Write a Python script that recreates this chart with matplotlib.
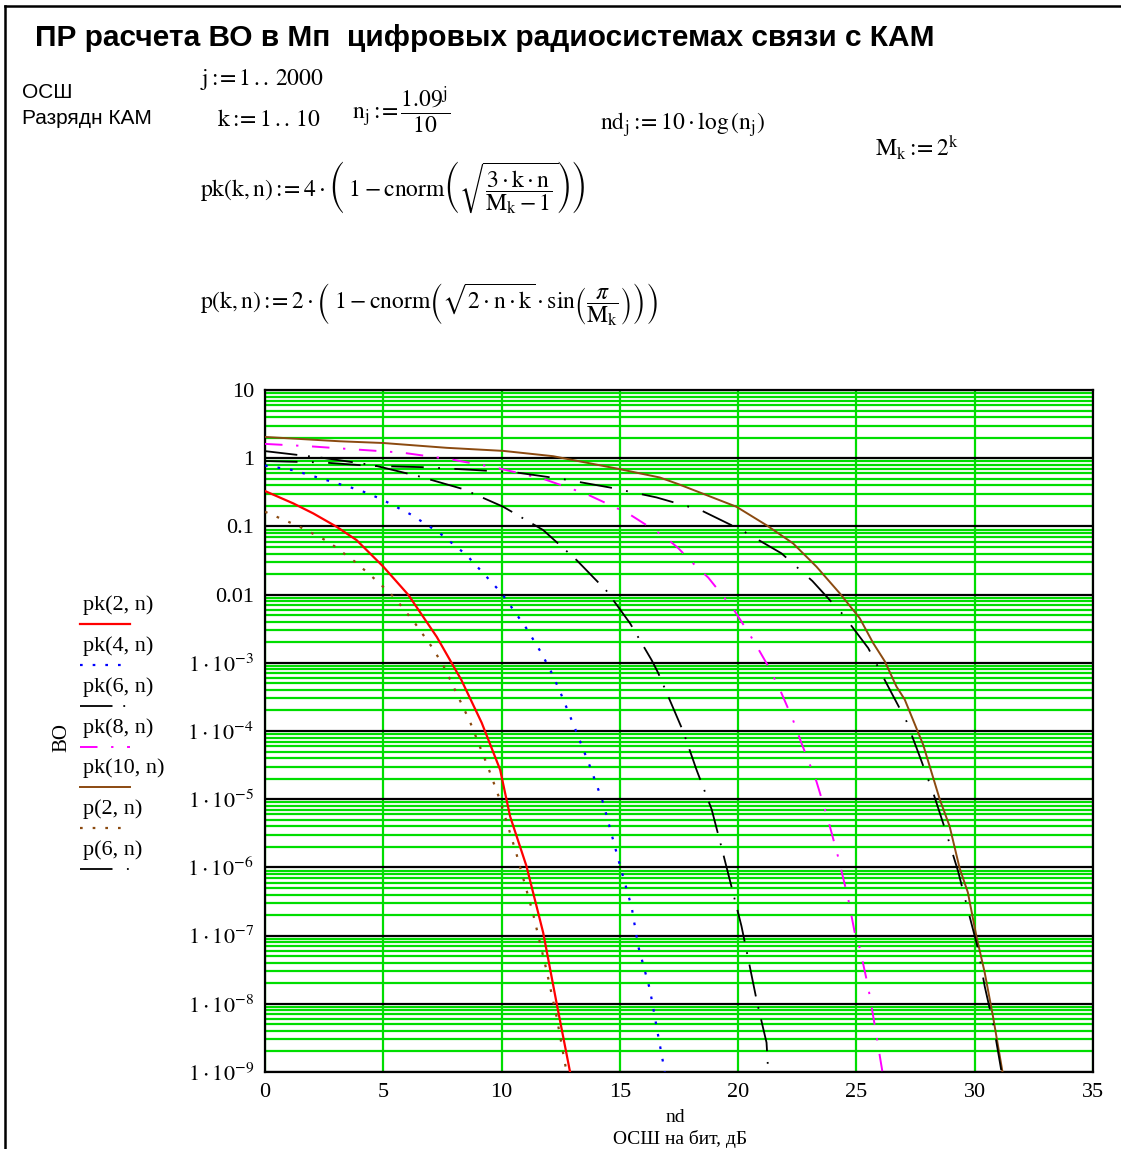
import matplotlib
matplotlib.use("Agg")
import matplotlib.pyplot as plt
from matplotlib.lines import Line2D
from matplotlib.ticker import LogLocator, NullFormatter, FixedLocator

W, H = 1121, 1149

# values (nd in dB, error probability BO)
pk2_x = [0, 1.2, 2.04, 3.03, 3.87, 5.0, 6.06, 7.26, 8.3, 9.16, 9.94, 10.36, 11.05, 11.76, 12.32, 12.89]
pk2_y = [0.33, 0.217, 0.155, 0.0986, 0.063, 0.0257, 9.9e-3, 2.4e-3, 5.6e-4, 1.32e-4, 2.7e-5, 5.6e-6,
         1.05e-6, 1.1e-7, 1.05e-8, 1.02e-9]

pk4_x = [0, 1.2, 2.58, 4.01, 4.92, 6.19, 7.39, 8.52, 9.42, 10.0, 11.05, 11.69, 12.11, 12.47, 13.1,
         13.74, 14.3, 14.94, 15.5, 15.78, 16.27, 16.62, 16.9]
pk4_y = [0.78, 0.667, 0.479, 0.339, 0.251, 0.148, 0.0794, 0.038, 0.0174, 0.0105, 3.2e-3, 1.38e-3,
         7.2e-4, 3.8e-4, 1.1e-4, 3.0e-5, 8.7e-6, 1.29e-6, 2.6e-7, 6.9e-8, 1.62e-8, 3.4e-9, 1.0e-9]

pk6_x = [0, 2.46, 4.58, 6.48, 8.38, 10.07, 11.76, 13.17, 14.44, 15.43, 16.34, 16.62, 17.68, 18.24,
         18.88, 19.3, 19.72, 20.14, 20.46, 20.8, 21.2, 21.27]
pk6_y = [1.27, 1.01, 0.79, 0.545, 0.352, 0.194, 0.0883, 0.0321, 0.0113, 3.8e-3, 1.1e-3, 7.1e-4,
         9.8e-5, 2.7e-5, 7.1e-6, 1.95e-6, 5.2e-7, 1.38e-7, 4.0e-8, 1.05e-8, 2.7e-9, 1.02e-9]

pk8_x = [0, 1.83, 3.87, 5.77, 7.82, 9.72, 11.76, 13.6, 15.35, 16.9, 17.47, 18.17, 18.74, 19.44,
         19.83, 20.46, 20.77, 21.34, 21.83, 22.3, 22.68, 23.31, 23.8, 24.22, 24.65, 24.93, 25.14,
         25.5, 25.78, 26.1]
pk8_y = [1.62, 1.5, 1.34, 1.21, 0.966, 0.731, 0.498, 0.297, 0.155, 0.0705, 0.0479, 0.0271, 0.0177,
         8.8e-3, 5.9e-3, 2.7e-3, 1.79e-3, 8.1e-4, 3.6e-4, 1.51e-4, 6.6e-5, 1.82e-5, 5.0e-6, 1.45e-6,
         3.5e-7, 1.1e-7, 6.6e-8, 1.74e-8, 4.7e-9, 1.0e-9]

pk10_x = [0, 3.17, 5.0, 7.68, 10.07, 12.18, 14.86, 16.69, 17.47, 19.93, 21.2, 22.32, 23.31, 24.3,
          25.14, 25.71, 26.2, 26.69, 27.04, 27.82, 28.52, 28.94, 29.36, 29.71, 30.07, 30.42, 30.77, 31.17]
pk10_y = [2.05, 1.77, 1.67, 1.42, 1.28, 1.07, 0.706, 0.521, 0.417, 0.194, 0.104, 0.0564, 0.0257,
          0.0104, 4.5e-3, 1.94e-3, 1.05e-3, 4.5e-4, 2.9e-4, 6.3e-5, 1.0e-5, 4.0e-6, 9.8e-7, 4.3e-7,
          9.8e-8, 2.9e-8, 6.6e-9, 1.02e-9]

p2_x = [0, 1.41, 2.68, 3.81, 4.8, 5.49, 6.34, 7.1, 7.6, 8.66, 9.42, 9.92, 10.62, 11.33, 11.89,
        12.32, 12.7, 12.78]
p2_y = [0.164, 0.101, 0.0596, 0.0302, 0.0151, 8.9e-3, 3.8e-3, 1.62e-3, 8.3e-4, 1.38e-4, 3.0e-5,
        1.0e-5, 1.62e-6, 2.1e-7, 3.2e-8, 6.6e-9, 1.23e-9, 1.0e-9]

p6_x = [0, 2.46, 4.51, 6.62, 8.59, 10.63, 12.6, 14.58, 16.55, 18.42, 20.14, 21.83, 23.14, 24.41,
        25.5, 26.27, 27.12, 27.68, 28.27, 28.8, 29.3, 29.71, 30.13, 30.42, 30.8, 31.12]
p6_y = [0.91, 0.865, 0.77, 0.74, 0.68, 0.617, 0.493, 0.372, 0.266, 0.173, 0.0883, 0.0403, 0.0158,
        5.2e-3, 1.64e-3, 5.0e-4, 1.38e-4, 4.2e-5, 1.17e-5, 3.2e-6, 8.7e-7, 2.4e-7, 6.6e-8, 1.82e-8,
        4.7e-9, 1.07e-9]

series_names = ["pk(2, n)", "pk(4, n)", "pk(6, n)", "pk(8, n)", "pk(10, n)", "p(2, n)", "p(6, n)"]
x_ticks = [0, 5, 10, 15, 20, 25, 30, 35]
y_ticks = [1e-9, 1e-8, 1e-7, 1e-6, 1e-5, 1e-4, 1e-3, 0.01, 0.1, 1, 10]
y_tick_labels = [r"$1\cdot10^{-9}$", r"$1\cdot10^{-8}$", r"$1\cdot10^{-7}$", r"$1\cdot10^{-6}$",
                 r"$1\cdot10^{-5}$", r"$1\cdot10^{-4}$", r"$1\cdot10^{-3}$", "0.01", "0.1", "1", "10"]

plt.rcParams['mathtext.fontset'] = 'stix'
plt.rcParams['font.family'] = ['Liberation Serif', 'DejaVu Serif']

GREEN = '#00DD00'
BROWN = '#8B4A10'
styles = [
    dict(color='#FF0000', lw=1.6, ls='-'),
    dict(color='#0000FF', lw=1.6, dashes=(1.2, 4.5)),
    dict(color='black', lw=1.3, dashes=(18, 6, 1, 6)),
    dict(color='#FF00FF', lw=1.4, dashes=(9, 7, 1.2, 7)),
    dict(color=BROWN, lw=1.4, ls='-'),
    dict(color=BROWN, lw=1.6, dashes=(1.2, 4.5)),
    dict(color='black', lw=1.3, dashes=(18, 8, 1, 8)),
]
data = [(pk2_x, pk2_y), (pk4_x, pk4_y), (pk6_x, pk6_y), (pk8_x, pk8_y),
        (pk10_x, pk10_y), (p2_x, p2_y), (p6_x, p6_y)]


def fx(px):
    return px / W


def fy(py):
    return 1 - py / H


fig = plt.figure(figsize=(W / 100, H / 100), dpi=100)

# page frame
fig.add_artist(Line2D([fx(5), fx(5)], [fy(6), 0], transform=fig.transFigure, color='black', lw=1.8))
fig.add_artist(Line2D([fx(5), 1], [fy(6), fy(6)], transform=fig.transFigure, color='black', lw=1.8))

# header texts
fig.text(fx(35), fy(38), "ПР расчета ВО в Мп  цифровых радиосистемах связи с КАМ",
         family='Liberation Sans', weight='bold', fontsize=21.5, va='center', ha='left')
fig.text(fx(22), fy(93), "ОСШ", family='Liberation Sans', fontsize=15, va='center')
fig.text(fx(22), fy(119), "Разрядн КАМ", family='Liberation Sans', fontsize=15, va='center')

fs = 17
fig.text(fx(200), fy(80), r"$\mathrm{j}{:}\!\!=1\,..\,2000$", fontsize=fs, va='center')
fig.text(fx(217), fy(121), r"$\mathrm{k}{:}\!\!=1\,..\,10$", fontsize=fs, va='center')
fig.text(fx(352), fy(110), r"$\mathrm{n}_{\mathrm{j}}{:}\!\!=\dfrac{1.09^{\mathrm{j}}}{10}$", fontsize=fs, va='center')
fig.text(fx(600), fy(125), r"$\mathrm{nd}_{\mathrm{j}}{:}\!\!=10\cdot\log\left(\mathrm{n}_{\mathrm{j}}\right)$",
         fontsize=fs, va='center')
fig.text(fx(875), fy(148), r"$\mathrm{M}_{\mathrm{k}}{:}\!\!=2^{\mathrm{k}}$", fontsize=fs, va='center')
fig.text(fx(200), fy(188),
         r"$\mathrm{pk}(\mathrm{k},\mathrm{n}){:}\!\!=4\cdot\left(\;1 - \mathrm{cnorm}\left(\sqrt{\dfrac{3\cdot\mathrm{k}\cdot\mathrm{n}}"
         r"{\mathrm{M}_{\mathrm{k}} - 1}}\right)\right)$", fontsize=fs, va='center')
fig.text(fx(200), fy(305),
         r"$\mathrm{p}(\mathrm{k},\mathrm{n}){:}\!\!=2\cdot\left(\;1 - \mathrm{cnorm}\left(\sqrt{2\cdot\mathrm{n}\cdot\mathrm{k}}"
         r"\cdot\mathrm{sin}\left(\dfrac{\pi}{\mathrm{M}_{\mathrm{k}}}\right)\right)\right)$", fontsize=fs, va='center')

# plot area
ax = fig.add_axes([fx(265), fy(1072), (1093 - 265) / W, (1072 - 390) / H])
for (xs, ys), st in zip(data, styles):
    ax.plot(xs, ys, **st, zorder=3)

ax.set_yscale('log')
ax.set_xlim(0, 35)
ax.set_ylim(1e-9, 10)
ax.set_xticks(x_ticks)
ax.set_xticklabels([str(t) for t in x_ticks], fontsize=16)
ax.yaxis.set_major_locator(FixedLocator(y_ticks))
ax.set_yticklabels(y_tick_labels, fontsize=16)
ax.yaxis.set_minor_locator(LogLocator(base=10, subs=range(2, 10), numticks=30))
ax.yaxis.set_minor_formatter(NullFormatter())
ax.tick_params(which='both', length=0, pad=8)
ax.grid(axis='x', which='major', color=GREEN, lw=1.6, zorder=1)
ax.grid(axis='y', which='minor', color=GREEN, lw=1.6, zorder=1)
ax.grid(axis='y', which='major', color='black', lw=1.6, zorder=2)
ax.set_axisbelow(True)
for sp in ax.spines.values():
    sp.set_linewidth(1.6)

# axis labels
fig.text(fx(675), fy(1118), "nd", fontsize=14, ha='center', va='center')
fig.text(fx(680), fy(1139), "ОСШ на бит, дБ", fontsize=14, ha='center', va='center')
fig.text(fx(62), fy(738), "ВО", fontsize=15, ha='center', va='center', rotation=90)

# legend at the left
leg_y = [605, 646, 687, 728, 768, 809, 850]
for name, st, ly in zip(series_names, styles, leg_y):
    fig.text(fx(83), fy(ly), name, fontsize=16, va='center', ha='left')
    fig.add_artist(Line2D([fx(80), fx(130)], [fy(ly + 19), fy(ly + 19)], transform=fig.transFigure, **st))

fig.savefig("out.png", dpi=100, facecolor='white')
